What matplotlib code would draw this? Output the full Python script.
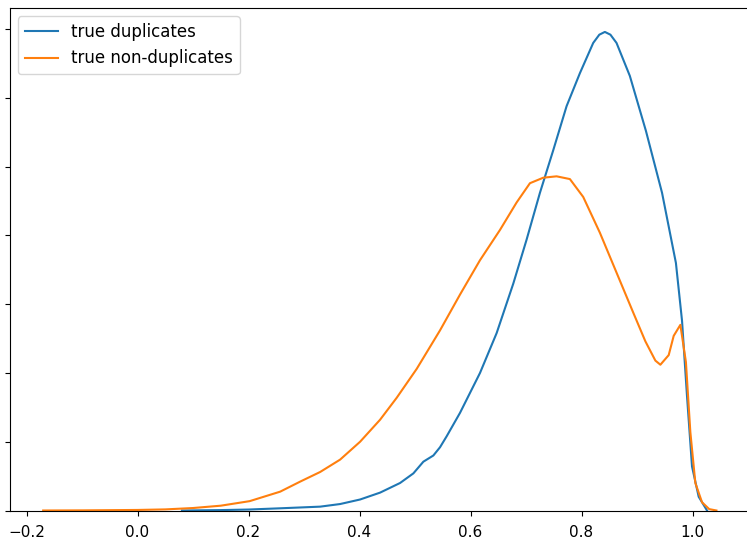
import matplotlib
matplotlib.use("Agg")
import matplotlib.pyplot as plt

dup_x = [0.08, 0.15, 0.20, 0.257, 0.329, 0.365, 0.401, 0.437, 0.473, 0.497, 0.515,
         0.533, 0.545, 0.557, 0.581, 0.617, 0.647, 0.677, 0.701, 0.725, 0.749, 0.773,
         0.797, 0.821, 0.832, 0.842, 0.852, 0.863, 0.887, 0.916, 0.945, 0.97,
         0.981, 0.99, 0.999, 1.011, 1.026]
dup_y = [0.0, 0.003, 0.007, 0.016, 0.028, 0.047, 0.08, 0.13, 0.20, 0.27, 0.355,
         0.40, 0.46, 0.54, 0.71, 1.0, 1.29, 1.65, 1.97, 2.31, 2.62, 2.94,
         3.18, 3.40, 3.46, 3.48, 3.46, 3.40, 3.16, 2.76, 2.31, 1.80,
         1.38, 0.83, 0.32, 0.10, 0.0]

non_x = [-0.17, -0.10, 0.0, 0.05, 0.10, 0.15, 0.202, 0.257, 0.293, 0.329, 0.365,
         0.401, 0.437, 0.467, 0.503, 0.545, 0.581, 0.617, 0.653, 0.683, 0.707, 0.731,
         0.755, 0.779, 0.803, 0.833, 0.863, 0.893, 0.915, 0.933, 0.942, 0.957, 0.966,
         0.978, 0.988, 0.996, 1.005, 1.017, 1.03, 1.043]
non_y = [0.0, 0.001, 0.004, 0.008, 0.018, 0.035, 0.068, 0.137, 0.21, 0.28, 0.37,
         0.50, 0.66, 0.82, 1.03, 1.31, 1.57, 1.82, 2.04, 2.24, 2.38, 2.42,
         2.43, 2.41, 2.28, 2.02, 1.73, 1.44, 1.23, 1.09, 1.06, 1.13, 1.27,
         1.35, 1.08, 0.57, 0.2, 0.06, 0.01, 0.0]

labels = ["true duplicates", "true non-duplicates"]

fig = plt.figure(figsize=(7.47, 5.41), dpi=100)
ax = fig.add_axes([9.5 / 747, 30.5 / 541, 740.6 / 747, 502.5 / 541])
ax.plot(dup_x, dup_y, color="tab:blue", lw=1.5, label=labels[0])
ax.plot(non_x, non_y, color="tab:orange", lw=1.5, label=labels[1])
ax.set_ylim(bottom=0)
ax.tick_params(axis="y", labelleft=False)
ax.tick_params(axis="x", labelsize=11, pad=7)
ax.legend(loc="upper left", fontsize=12)
fig.savefig("out.png", dpi=100)
